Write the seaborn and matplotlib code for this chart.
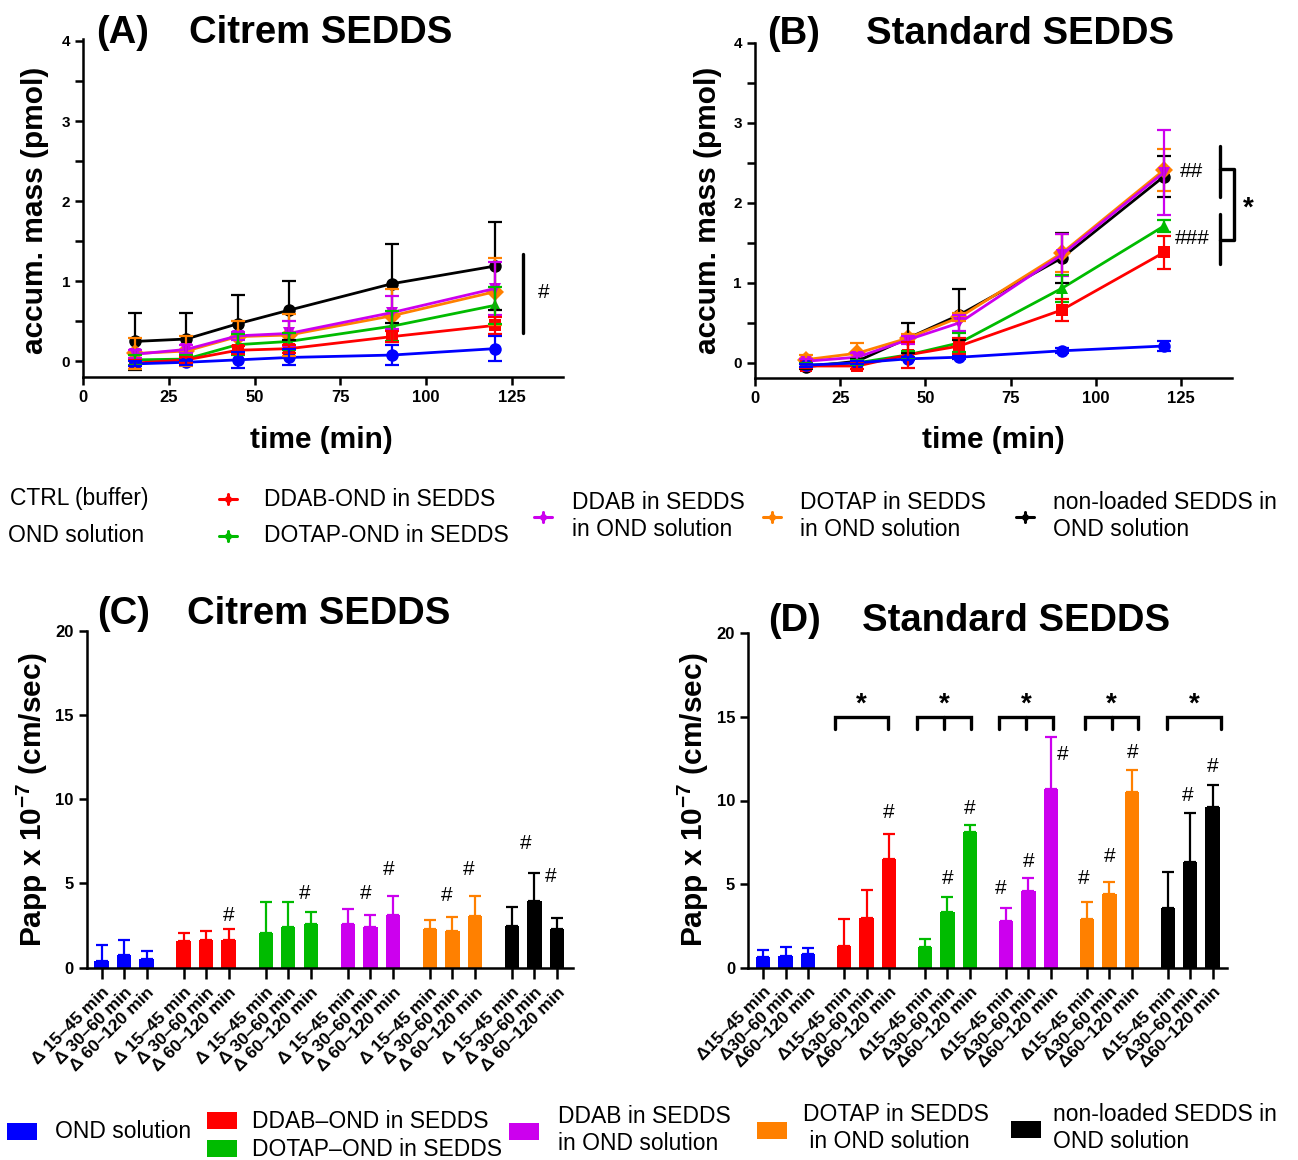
import numpy as np
import pandas as pd
import matplotlib
matplotlib.use("Agg")
import matplotlib.pyplot as plt
import seaborn as sns
from matplotlib.patches import Rectangle

W, H = 1298, 1160

# ---------------- data ----------------
groups = ["OND solution", "DDAB-OND in SEDDS", "DOTAP-OND in SEDDS",
          "DDAB in SEDDS in OND solution", "DOTAP in SEDDS in OND solution",
          "non-loaded SEDDS in OND solution"]
colors = ["#0000FF", "#FF0000", "#00BB00", "#CC00EE", "#FF8000", "#000000"]
markers = ["o", "s", "^", "v", "D", "o"]

times = [15, 30, 45, 60, 90, 120]

# Panel A (Citrem SEDDS) accumulated mass, mean and SD
a_mean = [
    [-0.03, -0.01, 0.02, 0.05, 0.08, 0.16],
    [-0.02, 0.02, 0.14, 0.16, 0.31, 0.45],
    [0.02, 0.03, 0.21, 0.25, 0.44, 0.70],
    [0.09, 0.15, 0.32, 0.35, 0.61, 0.91],
    [0.10, 0.13, 0.31, 0.33, 0.57, 0.87],
    [0.25, 0.28, 0.47, 0.64, 0.97, 1.19],
]
a_sd = [
    [0.03, 0.03, 0.10, 0.10, 0.12, 0.16],
    [0.04, 0.04, 0.05, 0.05, 0.07, 0.11],
    [0.06, 0.05, 0.13, 0.11, 0.19, 0.23],
    [0.05, 0.05, 0.05, 0.16, 0.21, 0.33],
    [0.19, 0.19, 0.20, 0.26, 0.33, 0.42],
    [0.36, 0.33, 0.36, 0.37, 0.49, 0.55],
]
# Panel B (Standard SEDDS)
b_mean = [
    [-0.03, 0.00, 0.05, 0.07, 0.15, 0.21],
    [-0.04, -0.04, 0.10, 0.21, 0.66, 1.38],
    [-0.03, 0.00, 0.10, 0.25, 0.93, 1.71],
    [0.02, 0.07, 0.29, 0.50, 1.35, 2.38],
    [0.04, 0.12, 0.31, 0.57, 1.37, 2.41],
    [-0.05, 0.02, 0.31, 0.60, 1.31, 2.33],
]
b_sd = [
    [0.02, 0.02, 0.02, 0.02, 0.03, 0.06],
    [0.03, 0.04, 0.16, 0.10, 0.14, 0.21],
    [0.03, 0.03, 0.05, 0.12, 0.17, 0.07],
    [0.03, 0.05, 0.05, 0.10, 0.26, 0.53],
    [0.06, 0.13, 0.05, 0.05, 0.24, 0.26],
    [0.03, 0.03, 0.19, 0.32, 0.31, 0.26],
]

intervals_c = ["Δ 15–45 min", "Δ 30–60 min", "Δ 60–120 min"]
intervals_d = ["Δ15–45 min", "Δ30–60 min", "Δ60–120 min"]

# Panel C Papp (x 10^-7 cm/s)
c_mean = [
    [0.40, 0.74, 0.54],
    [1.56, 1.64, 1.64],
    [2.08, 2.40, 2.60],
    [2.62, 2.42, 3.12],
    [2.32, 2.16, 3.06],
    [2.48, 3.96, 2.32],
]
c_sd = [
    [0.94, 0.88, 0.44],
    [0.52, 0.54, 0.66],
    [1.82, 1.50, 0.70],
    [0.84, 0.72, 1.16],
    [0.54, 0.82, 1.20],
    [1.12, 1.64, 0.62],
]
# Panel D
d_mean = [
    [0.66, 0.70, 0.80],
    [1.30, 2.98, 6.50],
    [1.26, 3.32, 8.12],
    [2.82, 4.58, 10.66],
    [2.94, 4.40, 10.50],
    [3.56, 6.34, 9.62],
]
d_sd = [
    [0.40, 0.56, 0.40],
    [1.64, 1.66, 1.50],
    [0.48, 0.88, 0.40],
    [0.76, 0.76, 3.14],
    [0.96, 0.72, 1.32],
    [2.18, 2.92, 1.28],
]

# significance marks: (group, bar, y, dx)
c_hash = [(1, 2, 3.1, 0.0), (2, 2, 4.4, -0.25), (3, 1, 4.4, -0.2), (3, 2, 5.8, -0.2),
          (4, 1, 4.3, -0.27), (4, 2, 5.8, -0.29), (5, 1, 7.4, -0.37), (5, 2, 5.4, -0.29)]
d_hash = [(1, 2, 9.26, 0.0), (2, 1, 5.36, 0.0), (2, 2, 9.5, 0.0),
          (3, 0, 4.76, -0.25), (3, 1, 6.36, 0.0), (3, 2, 12.76, 0.56),
          (4, 0, 5.36, -0.15), (4, 1, 6.66, 0.0), (4, 2, 12.86, 0.05),
          (5, 1, 10.3, -0.1), (5, 2, 12.06, 0.0)]
# brackets in D: (group, centre offset, middle tick?)
d_brackets = [(1, -0.23, False), (2, -0.15, True), (3, -0.11, True),
              (4, 0.10, True), (5, 0.16, False)]

# ---------------- style ----------------
sns.set_theme(style="ticks")
plt.rcParams["font.family"] = ["Liberation Sans", "DejaVu Sans"]
plt.rcParams["mathtext.fontset"] = "custom"
plt.rcParams["mathtext.rm"] = "Liberation Sans"
plt.rcParams["mathtext.bf"] = "Liberation Sans:bold"
plt.rcParams["axes.linewidth"] = 1.8
for key in ["text.color", "axes.labelcolor", "xtick.color", "ytick.color",
            "axes.edgecolor"]:
    plt.rcParams[key] = "black"

fig = plt.figure(figsize=(W / 100, H / 100), dpi=100)


def add_ax(L, R, T, B):
    return fig.add_axes([L / W, (H - B) / H, (R - L) / W, (B - T) / H])


def px(x, y):
    return x / W, (H - y) / H


pal = dict(zip(groups, colors))
mk = dict(zip(groups, markers))


def line_panel(ax, means, sds, ylim):
    rows = []
    for g, m in zip(groups, means):
        for t, v in zip(times, m):
            rows.append((g, t, v))
    df = pd.DataFrame(rows, columns=["group", "time", "value"])
    order = groups[::-1]
    sns.lineplot(data=df, x="time", y="value", hue="group", style="group",
                 hue_order=order, style_order=order, palette=pal, markers=mk,
                 dashes=False, linewidth=2.0, markersize=9, markeredgewidth=0,
                 legend=False, ax=ax, zorder=3)
    for gi in range(len(groups) - 1, -1, -1):
        ax.errorbar(times, means[gi], yerr=sds[gi], fmt="none", ecolor=colors[gi],
                    elinewidth=1.6, capsize=5, capthick=1.6, zorder=3)
    ax.set_xlim(0, 140)
    ax.set_ylim(*ylim)
    ax.set_xticks([0, 25, 50, 75, 100, 125])
    ax.set_yticks([0, 1, 2, 3, 4])
    ax.set_yticks(np.arange(0, 4.01, 0.5), minor=True)
    ax.set_xlabel("")
    ax.set_ylabel("")
    sns.despine(ax=ax)
    ax.tick_params(axis="both", which="major", direction="out", length=6, width=1.8)
    ax.tick_params(axis="y", which="minor", direction="out", length=6, width=1.8)
    ax.tick_params(axis="x", labelsize=12)
    ax.tick_params(axis="y", labelsize=11)
    for lab in ax.get_xticklabels() + ax.get_yticklabels():
        lab.set_fontweight("bold")


# Panel A
axA = add_ax(83.3, 563.3, 39.3, 376.7)
line_panel(axA, a_mean, a_sd, (-0.19, 4.02))
axA.plot([128.2, 128.2], [0.36, 1.34], color="black", lw=2.4, clip_on=False)
axA.text(134.2, 0.86, "#", fontsize=15, ha="center", va="center")

# Panel B
axB = add_ax(755, 1232, 43, 378)
line_panel(axB, b_mean, b_sd, (-0.19, 4.0))
axB.plot([136.6, 136.6], [2.07, 2.71], color="black", lw=2.4, clip_on=False)
axB.plot([136.6, 136.6], [1.24, 1.86], color="black", lw=2.4, clip_on=False)
axB.plot([136.6, 140.6, 140.6, 136.6], [2.43, 2.43, 1.53, 1.53], color="black",
         lw=2.4, clip_on=False)
axB.text(128.1, 2.39, "##", fontsize=15, ha="center", va="center")
axB.text(128.4, 1.56, "###", fontsize=15, ha="center", va="center")
axB.text(144.7, 1.93, "*", fontsize=20, fontweight="bold", ha="center", va="center",
         clip_on=False)

group_step = 3.65
positions = [[g * group_step + j for j in range(3)] for g in range(len(groups))]


def bar_panel(ax, means, sds, labels, xlim):
    rows = []
    for gi, g in enumerate(groups):
        for j in range(3):
            rows.append((g, positions[gi][j], means[gi][j]))
    df = pd.DataFrame(rows, columns=["group", "pos", "value"])
    sns.barplot(data=df, x="pos", y="value", hue="group", hue_order=groups,
                palette=pal, native_scale=True, dodge=False, width=0.64,
                saturation=1, linewidth=0, legend=False, ax=ax, zorder=2)
    for gi in range(len(groups)):
        ax.errorbar(positions[gi], means[gi], yerr=[np.zeros(3), sds[gi]], fmt="none",
                    ecolor=colors[gi], elinewidth=1.6, capsize=4.5, capthick=1.6,
                    zorder=3)
    ax.set_xlim(*xlim)
    ax.set_ylim(0, 20)
    ax.set_yticks([0, 5, 10, 15, 20])
    flat = [p for grp in positions for p in grp]
    ax.set_xticks(flat)
    ax.set_xticklabels(labels * len(groups), rotation=45, ha="right",
                       rotation_mode="anchor", fontsize=12.5, fontweight="bold")
    ax.set_xlabel("")
    ax.set_ylabel("")
    sns.despine(ax=ax)
    ax.tick_params(axis="x", direction="out", length=8, width=1.8, pad=4)
    ax.tick_params(axis="y", direction="out", length=6, width=1.8, labelsize=12)
    for lab in ax.get_yticklabels():
        lab.set_fontweight("bold")


# Panel C
axC = add_ax(87, 572.7, 630.7, 967.7)
bar_panel(axC, c_mean, c_sd, intervals_c, (-0.65, 20.95))
for g, j, y, dx in c_hash:
    axC.text(positions[g][j] + dx, y, "#", fontsize=15, ha="center", va="center")

# Panel D
axD = add_ax(748.3, 1227, 633.3, 967.7)
bar_panel(axD, d_mean, d_sd, intervals_d, (-0.68, 20.9))
for g, j, y, dx in d_hash:
    axD.text(positions[g][j] + dx, y, "#", fontsize=15, ha="center", va="center")
for g, off, mid in d_brackets:
    c = positions[g][1] + off
    x0, x1 = c - 1.21, c + 1.21
    axD.plot([x0, x0, x1, x1], [14.3, 15.0, 15.0, 14.3], color="black", lw=2.4,
             solid_joinstyle="miter")
    if mid:
        axD.plot([c, c], [14.3, 15.0], color="black", lw=2.4)
    axD.text(c, 15.75, "*", fontsize=20, fontweight="bold", ha="center", va="center")

# ---------------- titles and axis labels ----------------
tkw = dict(fontsize=27.5, fontweight="bold", ha="center", va="center")
fig.text(*px(123, 33), "(A)", **tkw)
fig.text(*px(321, 33), "Citrem SEDDS", **tkw)
fig.text(*px(794, 34), "(B)", **tkw)
fig.text(*px(1020, 34), "Standard SEDDS", **tkw)
fig.text(*px(124, 614), "(C)", **tkw)
fig.text(*px(319, 614), "Citrem SEDDS", **tkw)
fig.text(*px(794, 621), "(D)", **tkw)
fig.text(*px(1016, 621), "Standard SEDDS", **tkw)

lkw = dict(fontsize=21.5, fontweight="bold", ha="center", va="center")
fig.text(*px(35, 210), "accum. mass (pmol)", rotation=90, **lkw)
fig.text(*px(708, 210), "accum. mass (pmol)", rotation=90, **lkw)
fig.text(*px(321, 440), "time (min)", **lkw)
fig.text(*px(993, 440), "time (min)", **lkw)
papp = r"Papp x 10$^{\mathbf{-7}}$ (cm/sec)"
fig.text(*px(32, 800), papp, rotation=90, **lkw)
fig.text(*px(693, 800), papp, rotation=90, **lkw)

# ---------------- legends ----------------
ov = fig.add_axes([0, 0, 1, 1])
ov.set_xlim(0, W)
ov.set_ylim(H, 0)
ov.axis("off")
ov.patch.set_alpha(0)

gkw = dict(fontsize=16.5, ha="left", va="center", linespacing=1.2)
# middle legend (line panels)
ov.text(10, 499, "CTRL (buffer)", **gkw)
ov.text(8, 535, "OND solution", **gkw)
mid_items = [(1, 228, 499, 264, 499, "DDAB-OND in SEDDS"),
             (2, 228, 536, 264, 536, "DOTAP-OND in SEDDS"),
             (3, 543, 517, 572, 516, "DDAB in SEDDS\nin OND solution"),
             (4, 772, 517, 800, 516, "DOTAP in SEDDS\nin OND solution"),
             (5, 1025, 517, 1053, 516, "non-loaded SEDDS in\nOND solution")]
for gi, mx, my, tx, ty, label in mid_items:
    ov.plot([mx - 9, mx + 9], [my, my], color=colors[gi], lw=2.2)
    ov.plot([mx, mx], [my - 5, my + 5], color=colors[gi], lw=2.2)
    ov.plot([mx], [my], marker="o", ms=5, color=colors[gi], mew=0)
    ov.text(tx, ty, label, **gkw)

# bottom legend (bar panels)
bot_items = [(0, 22, 1131, 55, 1131, "OND solution"),
             (1, 222, 1120, 252, 1121, "DDAB–OND in SEDDS"),
             (2, 222, 1148, 252, 1149, "DOTAP–OND in SEDDS"),
             (3, 524, 1131, 558, 1130, "DDAB in SEDDS\nin OND solution"),
             (4, 772, 1130, 803, 1128, "DOTAP in SEDDS\n in OND solution"),
             (5, 1026, 1129, 1053, 1128, "non-loaded SEDDS in\nOND solution")]
for gi, sx, sy, tx, ty, label in bot_items:
    ov.add_patch(Rectangle((sx - 15, sy - 8.5), 30, 17, color=colors[gi], lw=0))
    ov.text(tx, ty, label, **gkw)

fig.savefig("out.png", dpi=100)
